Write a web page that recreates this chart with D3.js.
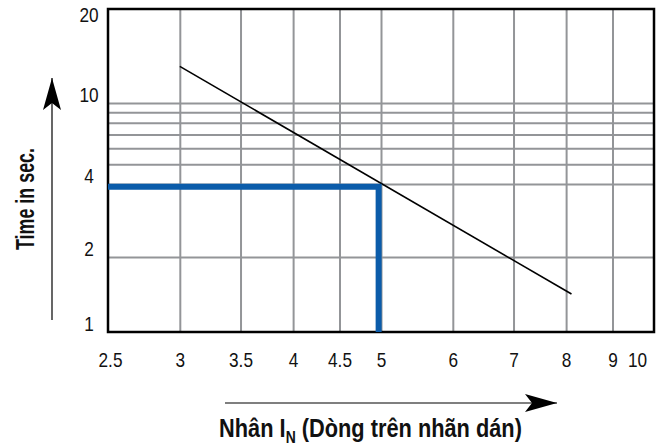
<!DOCTYPE html>
<html>
<head>
<meta charset="utf-8">
<script src="https://cdn.jsdelivr.net/npm/d3@7"></script>
<style>
  html, body { margin: 0; padding: 0; background: #ffffff; }
  svg { display: block; }
  .lbl { font-family: "Liberation Sans Narrow", "Arial Narrow", "Liberation Sans", Arial, sans-serif; }
</style>
</head>
<body>
<svg id="chart" width="657" height="448"></svg>
<script>
// ---- data ----
const xTickValues = [2.5, 3, 3.5, 4, 4.5, 5, 6, 7, 8, 9, 10];
const xTickLabels = ["2.5", "3", "3.5", "4", "4.5", "5", "6", "7", "8", "9", "10"];
const xGridValues = [3, 3.5, 4, 4.5, 5, 6, 7, 8, 9];
const yTickValues = [1, 2, 4, 10, 20];
const yTickLabels = ["1", "2", "4", "10", "20"];
const yGridValues = [2, 4, 5, 6, 7, 8, 9, 10];
const yScaleBreaks = [1, 2, 4, 10, 20];          // chart's (non-uniform) y axis anchors
const curveX = [3.0, 8.11];
const curveY = [13.1, 1.42];
const markerX = [2.5, 4.97, 4.97];
const markerY = [3.9, 3.9, 1];
const xTitle = "Nhân I";
const xTitleSub = "N";
const xTitleRest = " (Dòng trên nhãn dán)";
const yTitle = "Time in sec.";

// ---- layout ----
const svg = d3.select("#chart");
const pLeft = 108, pRight = 654, pTop = 9, pBottom = 332;
const narrow = 0.82;

const x = d3.scaleLog().domain([2.5, 10]).range([pLeft, pRight]);
const y = d3.scaleLog().domain(yScaleBreaks).range([332, 257, 184, 103, pTop]);

const gridColor = "#939598";
const g = svg.append("g");

// vertical grid
g.append("g")
  .attr("transform", `translate(0,${pBottom})`)
  .call(d3.axisBottom(x).tickValues(xGridValues).tickSize(-(pBottom - pTop)).tickFormat(""))
  .call(s => s.select(".domain").remove())
  .call(s => s.selectAll(".tick line").attr("stroke", gridColor).attr("stroke-width", 2));

// horizontal grid
g.append("g")
  .attr("transform", `translate(${pLeft},0)`)
  .call(d3.axisLeft(y).tickValues(yGridValues).tickSize(-(pRight - pLeft)).tickFormat(""))
  .call(s => s.select(".domain").remove())
  .call(s => s.selectAll(".tick line").attr("stroke", gridColor).attr("stroke-width", 2));

// frame
g.append("rect")
  .attr("x", pLeft).attr("y", pTop)
  .attr("width", pRight - pLeft).attr("height", pBottom - pTop)
  .attr("fill", "none").attr("stroke", "#000").attr("stroke-width", 2.5);

// curve
const pts = curveX.map((v, i) => [v, curveY[i]]);
g.append("path")
  .attr("d", d3.line().x(d => x(d[0])).y(d => y(d[1]))(pts))
  .attr("fill", "none").attr("stroke", "#000").attr("stroke-width", 1.6);

// blue marker
const mpts = markerX.map((v, i) => [v, markerY[i]]);
g.append("path")
  .attr("d", d3.line().x(d => x(d[0])).y(d => y(d[1]))(mpts))
  .attr("fill", "none").attr("stroke", "#0b5caa").attr("stroke-width", 6)
  .attr("stroke-linejoin", "miter").attr("stroke-linecap", "butt");

// x tick labels
const xa = svg.append("g")
  .attr("transform", `translate(0,${pBottom})`)
  .call(d3.axisBottom(x).tickValues(xTickValues).tickSize(0).tickPadding(0)
        .tickFormat((d, i) => xTickLabels[i]));
xa.select(".domain").remove();
xa.selectAll(".tick text")
  .attr("class", "lbl")
  .attr("font-size", 21).attr("fill", "#111")
  .attr("y", 35).attr("dy", 0)
  .attr("x", d => d === 10 ? -17 / narrow : (d === 2.5 ? 2 / narrow : 0))
  .attr("transform", `scale(${narrow},1)`);

// y tick labels
const ya = svg.append("g")
  .attr("transform", `translate(89,0)`)
  .call(d3.axisLeft(y).tickValues(yTickValues).tickSize(0).tickPadding(0)
        .tickFormat((d, i) => yTickLabels[i]));
ya.select(".domain").remove();
ya.selectAll(".tick text")
  .attr("class", "lbl")
  .attr("font-size", 21).attr("fill", "#111")
  .attr("text-anchor", "middle")
  .attr("x", 0)
  .attr("dy", d => d === 20 ? 12 : -2)
  .attr("transform", `scale(${narrow},1)`);

// arrow marker
const defs = svg.append("defs");
defs.append("marker")
  .attr("id", "ah").attr("viewBox", "0 0 32 18")
  .attr("refX", 32).attr("refY", 9)
  .attr("markerWidth", 32).attr("markerHeight", 18)
  .attr("markerUnits", "userSpaceOnUse").attr("orient", "auto")
  .append("path").attr("d", "M0,0 L32,9 L0,18 L7,9 Z").attr("fill", "#000");

// x arrow
svg.append("line")
  .attr("x1", 225).attr("y1", 403).attr("x2", 557).attr("y2", 403)
  .attr("stroke", "#000").attr("stroke-width", 1.2).attr("marker-end", "url(#ah)");

// y arrow
svg.append("line")
  .attr("x1", 52).attr("y1", 320).attr("x2", 52).attr("y2", 78)
  .attr("stroke", "#000").attr("stroke-width", 1.2).attr("marker-end", "url(#ah)");

// x title (condensed to reference width)
const xtg = svg.append("g");
const xt = xtg.append("text").attr("class", "lbl")
  .attr("x", 0).attr("y", 0).attr("text-anchor", "middle")
  .attr("font-size", 25).attr("font-weight", "bold").attr("fill", "#111");
xt.append("tspan").text(xTitle);
xt.append("tspan").attr("font-size", 16).attr("dy", 6).text(xTitleSub);
xt.append("tspan").attr("dy", -6).text(xTitleRest);
const xtw = xt.node().getBBox().width;
xtg.attr("transform", `translate(370.5,437) scale(${303 / xtw},1)`);

// y title (condensed to reference length)
const ytg = svg.append("g");
const yt = ytg.append("text").attr("class", "lbl")
  .attr("x", 0).attr("y", 0).attr("text-anchor", "middle")
  .attr("font-size", 26).attr("font-weight", "bold").attr("fill", "#111")
  .text(yTitle);
const ytw = yt.node().getBBox().width;
ytg.attr("transform", `translate(33.5,199) rotate(-90) scale(${102 / ytw},1)`);
</script>
</body>
</html>
